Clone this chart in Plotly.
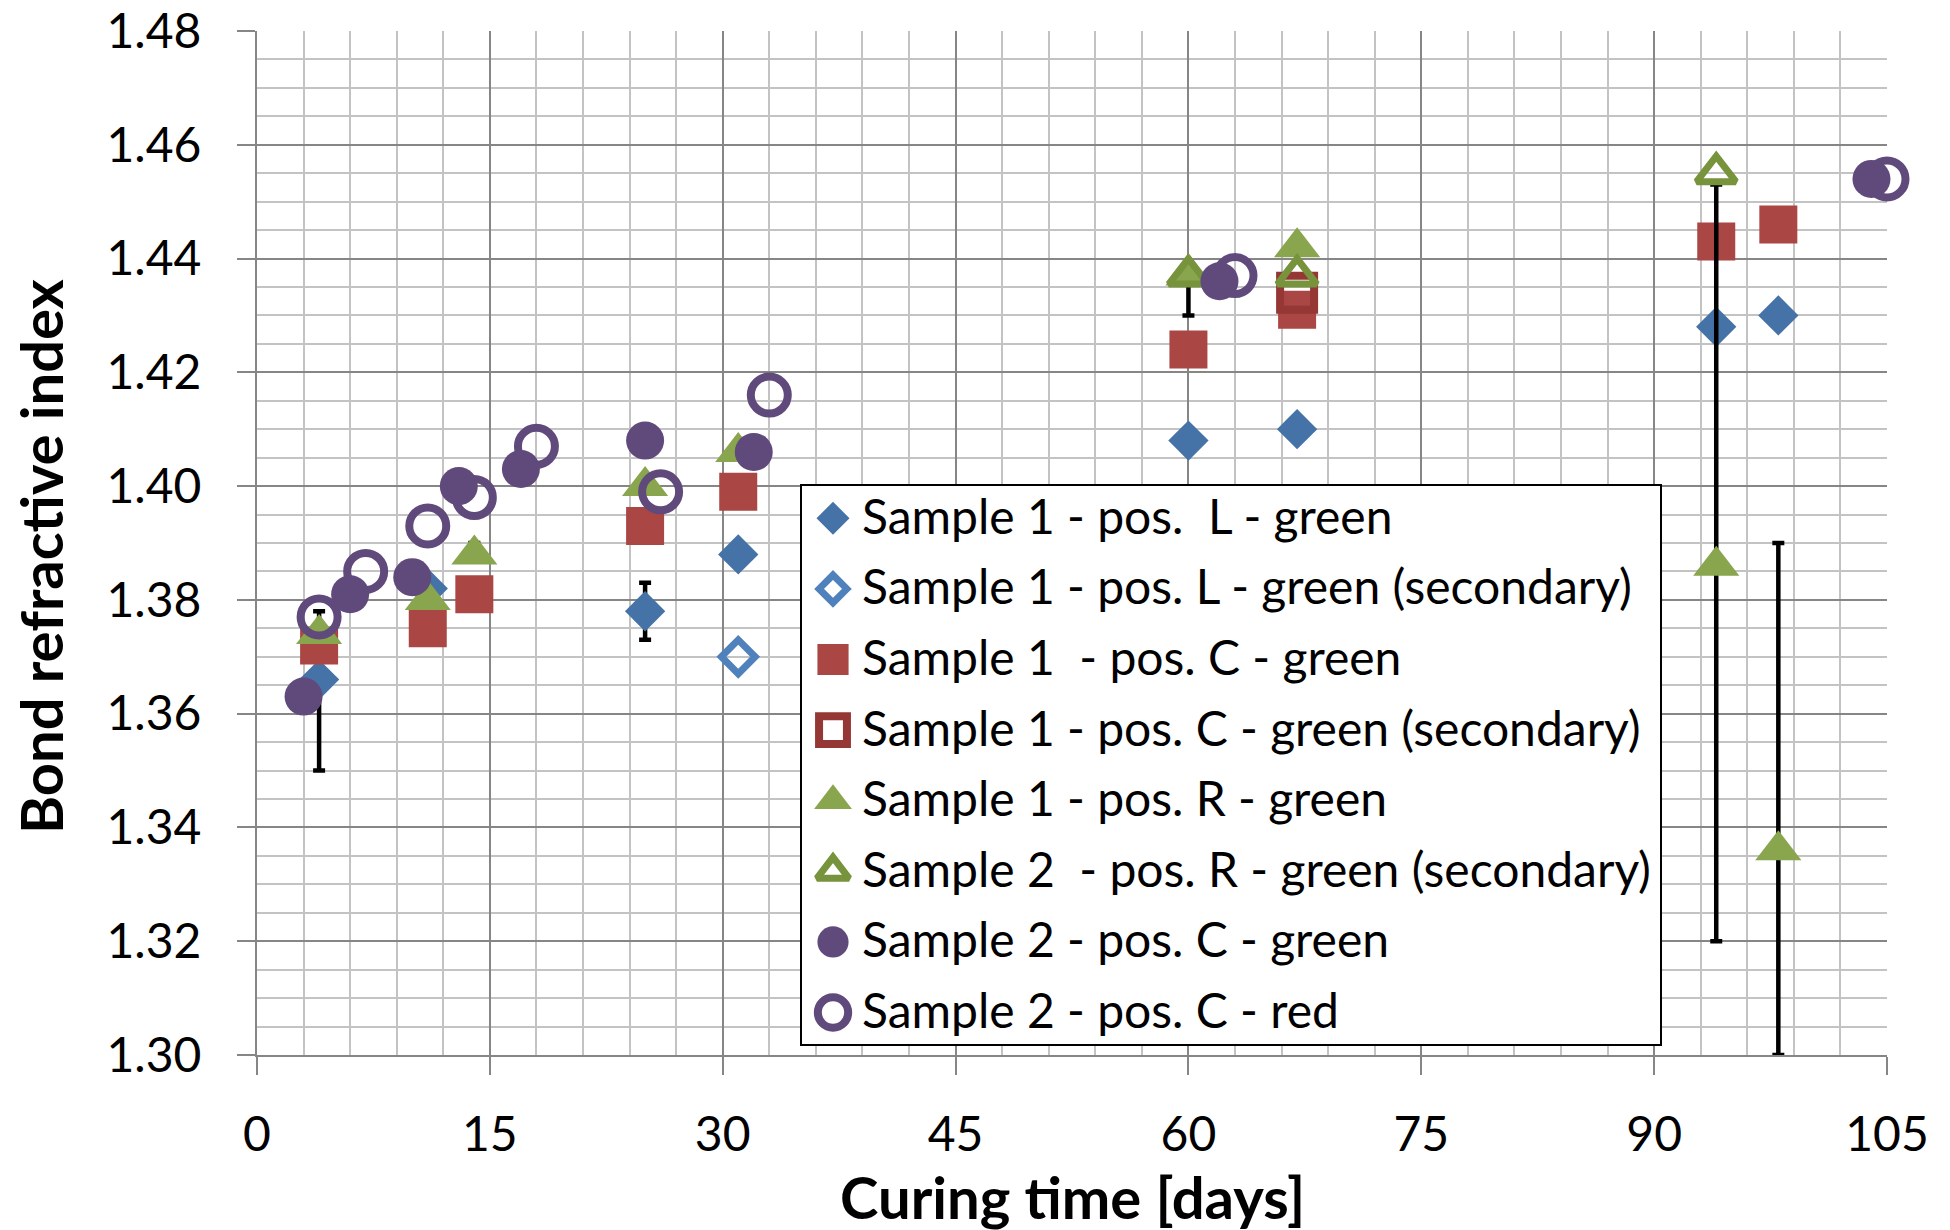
import plotly.graph_objects as go

# ---------------------------------------------------------------
# Bond refractive index vs. curing time
# ---------------------------------------------------------------

# Sample 1 - position L - green
s1_L_x = [4, 11, 25, 31, 60, 67, 94, 98]
s1_L_y = [1.366, 1.382, 1.378, 1.388, 1.408, 1.410, 1.428, 1.430]
s1_L_err_plus = [0.012, 0, 0.005, 0, 0, 0, 0, 0]
s1_L_err_minus = [0.016, 0, 0.005, 0, 0, 0, 0, 0]

# Sample 1 - position L - green (secondary)
s1_L_sec_x = [31]
s1_L_sec_y = [1.370]

# Sample 1 - position C - green
s1_C_x = [4, 11, 14, 25, 31, 60, 67, 94, 98]
s1_C_y = [1.372, 1.375, 1.381, 1.393, 1.399, 1.424, 1.431, 1.443, 1.446]

# Sample 1 - position C - green (secondary)
s1_C_sec_x = [67]
s1_C_sec_y = [1.434]

# Sample 1 - position R - green
s1_R_x = [4, 11, 14, 25, 31, 60, 67, 94, 98]
s1_R_y = [1.374, 1.380, 1.388, 1.400, 1.406, 1.437, 1.442, 1.386, 1.336]
s1_R_err_plus = [0, 0, 0.002, 0, 0, 0, 0, 0.067, 0.054]
s1_R_err_minus = [0, 0, 0, 0, 0, 0.007, 0, 0.066, 0.036]

# Sample 2 - position R - green (secondary)
s2_R_sec_x = [60, 67, 94]
s2_R_sec_y = [1.437, 1.437, 1.455]

# Sample 2 - position C - green
s2_C_green_x = [3, 6, 10, 13, 17, 25, 32, 62, 104]
s2_C_green_y = [1.363, 1.381, 1.384, 1.400, 1.403, 1.408, 1.406, 1.436, 1.454]

# Sample 2 - position C - red
s2_C_red_x = [4, 7, 11, 14, 18, 26, 33, 63, 105]
s2_C_red_y = [1.377, 1.385, 1.393, 1.398, 1.407, 1.399, 1.416, 1.437, 1.454]

x_ticks = [0, 15, 30, 45, 60, 75, 90, 105]
y_ticks = [1.30, 1.32, 1.34, 1.36, 1.38, 1.40, 1.42, 1.44, 1.46, 1.48]

X_RANGE = [0, 105]
Y_RANGE = [1.30, 1.48]

# ---------------------------------------------------------------
# page geometry (pixels) and helpers
# ---------------------------------------------------------------
W, H = 1950, 1230
ML, MR, MT, MB = 257, 63, 31, 175
PW, PH = W - ML - MR, H - MT - MB


def fx(px):
    """pixel column -> fraction of plot width"""
    return (px - ML) / PW


def fy(py):
    """pixel row -> fraction of plot height"""
    return (H - MB - py) / PH


def data_x(px):
    return X_RANGE[0] + fx(px) * (X_RANGE[1] - X_RANGE[0])


def data_y(py):
    return Y_RANGE[0] + fy(py) * (Y_RANGE[1] - Y_RANGE[0])


FONT = "Lato"
BLUE, BLUE_LT = "#4572A7", "#4F81BD"
RED, RED_DK = "#AA4643", "#953735"
GREEN, GREEN_DK = "#89A54E", "#77933C"
PURPLE = "#604A7B"
GRID_MAJOR, GRID_MINOR = "#868686", "#C3C3C3"

series = [
    dict(name="Sample 1 - pos.  L - green", x=s1_L_x, y=s1_L_y,
         symbol="diamond", size=31, color=BLUE, lw=0,
         err=(s1_L_err_plus, s1_L_err_minus)),
    dict(name="Sample 1 - pos. L - green (secondary)", x=s1_L_sec_x, y=s1_L_sec_y,
         symbol="diamond-open", size=26, color=BLUE_LT, lw=7),
    dict(name="Sample 1  - pos. C - green", x=s1_C_x, y=s1_C_y,
         symbol="square", size=38, color=RED, lw=0),
    dict(name="Sample 1 - pos. C - green (secondary)", x=s1_C_sec_x, y=s1_C_sec_y,
         symbol="square-open", size=34, color=RED_DK, lw=8),
    dict(name="Sample 1 - pos. R - green", x=s1_R_x, y=s1_R_y,
         symbol="triangle-up", size=40, color=GREEN, lw=0,
         err=(s1_R_err_plus, s1_R_err_minus)),
    dict(name="Sample 2  - pos. R - green (secondary)", x=s2_R_sec_x, y=s2_R_sec_y,
         symbol="triangle-up-open", size=34, color=GREEN_DK, lw=7),
    dict(name="Sample 2 - pos. C - green", x=s2_C_green_x, y=s2_C_green_y,
         symbol="circle", size=38, color=PURPLE, lw=0),
    dict(name="Sample 2 - pos. C - red", x=s2_C_red_x, y=s2_C_red_y,
         symbol="circle-open", size=37, color=PURPLE, lw=8),
]

fig = go.Figure()

# data traces
for s in series:
    err = None
    if "err" in s:
        plus, minus = s["err"]
        err = dict(type="data", symmetric=False, array=plus, arrayminus=minus,
                   color="black", thickness=4.5, width=6)
    fig.add_trace(go.Scatter(
        x=s["x"], y=s["y"], mode="markers", name=s["name"],
        marker=dict(symbol=s["symbol"], size=s["size"], color=s["color"],
                    line=dict(width=s["lw"], color=s["color"])),
        error_y=err, showlegend=False, cliponaxis=False,
    ))

# legend: box, keys and labels
LEG_BOX = (801, 485, 1661, 1045)          # left, top, right, bottom (px)
LEG_KEY_X, LEG_TEXT_X = 833, 860
LEG_ROW0, LEG_ROW_STEP = 518.3, 70.6
LEG_TEXT_SHIFT = -3
LEG_KEY_SCALE = 0.82

annotations = []
for i, s in enumerate(series):
    row_y = LEG_ROW0 + i * LEG_ROW_STEP
    fig.add_trace(go.Scatter(
        x=[fx(LEG_KEY_X)], y=[fy(row_y)], xaxis="x2", yaxis="y2",
        mode="markers", showlegend=False, hoverinfo="skip",
        marker=dict(symbol=s["symbol"], size=s["size"] * LEG_KEY_SCALE,
                    color=s["color"], line=dict(width=s["lw"], color=s["color"])),
    ))
    annotations.append(dict(
        x=fx(LEG_TEXT_X), y=fy(row_y + LEG_TEXT_SHIFT), xref="paper", yref="paper",
        xanchor="left", yanchor="middle", showarrow=False,
        text=s["name"].replace("  ", " \u00a0"),
        font=dict(family=FONT, size=48, color="black"),
    ))

# axis titles
annotations.append(dict(
    x=0.5, y=fy(1196), xref="paper", yref="paper", showarrow=False,
    xanchor="center", yanchor="middle", text="Curing time [days]",
    font=dict(family=FONT, size=58, color="black", weight="bold"),
))
annotations.append(dict(
    x=fx(40), y=fy(556), xref="paper", yref="paper", showarrow=False,
    xanchor="center", yanchor="middle", text="Bond refractive index", textangle=-90,
    font=dict(family=FONT, size=58, color="black", weight="bold"),
))

tick_font = dict(family=FONT, size=48, color="black")

fig.update_layout(
    width=W, height=H,
    margin=dict(l=ML, r=MR, t=MT, b=MB, pad=0, autoexpand=False),
    paper_bgcolor="white", plot_bgcolor="white",
    showlegend=False,
    xaxis=dict(
        range=X_RANGE, tickvals=x_ticks, ticktext=[str(v) for v in x_ticks],
        automargin=False,
        showgrid=True, gridcolor=GRID_MAJOR, gridwidth=2,
        ticks="outside", ticklen=18, tickwidth=2, tickcolor=GRID_MAJOR,
        showline=True, linecolor=GRID_MAJOR, linewidth=2, zeroline=False,
        tickfont=tick_font, ticklabelstandoff=18,
        minor=dict(dtick=3, tick0=0, showgrid=True, gridcolor=GRID_MINOR,
                   gridwidth=2, ticks=""),
    ),
    yaxis=dict(
        range=Y_RANGE, tickvals=y_ticks, ticktext=[f"{v:.2f}" for v in y_ticks],
        automargin=False,
        showgrid=True, gridcolor=GRID_MAJOR, gridwidth=2,
        ticks="outside", ticklen=18, tickwidth=2, tickcolor=GRID_MAJOR,
        showline=True, linecolor=GRID_MAJOR, linewidth=2, zeroline=False,
        tickfont=tick_font, ticklabelstandoff=26,
        minor=dict(dtick=0.005, tick0=1.30, showgrid=True, gridcolor=GRID_MINOR,
                   gridwidth=2, ticks=""),
    ),
    xaxis2=dict(overlaying="x", anchor="y2", range=[0, 1], visible=False,
                automargin=False),
    yaxis2=dict(overlaying="y", anchor="x2", range=[0, 1], visible=False,
                automargin=False),
    # legend frame: above the grid, below the data and legend keys
    shapes=[dict(type="rect", xref="x", yref="y",
                 x0=data_x(LEG_BOX[0]), x1=data_x(LEG_BOX[2]),
                 y0=data_y(LEG_BOX[3]), y1=data_y(LEG_BOX[1]),
                 fillcolor="white", line=dict(color="black", width=2),
                 layer="between")],
    annotations=annotations,
)

fig.write_html("out.html", post_script="document.body.style.margin='0';")
